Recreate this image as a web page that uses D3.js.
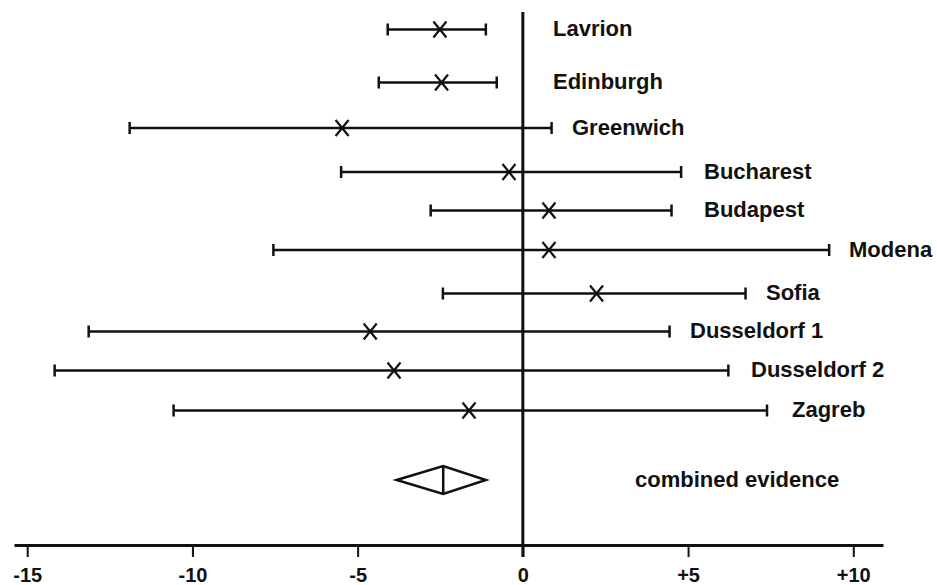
<!DOCTYPE html>
<html>
<head>
<meta charset="utf-8">
<script src="https://cdn.jsdelivr.net/npm/d3@7"></script>
<style>
  html, body { margin: 0; padding: 0; background: #fff; }
  svg { display: block; }
  text { font-family: "Liberation Sans", Arial, Helvetica, sans-serif; font-weight: bold; fill: #111; }
</style>
</head>
<body>
<svg id="chart" width="937" height="585"></svg>
<script>
// ---- data ----
const studies = ["Lavrion", "Edinburgh", "Greenwich", "Bucharest", "Budapest", "Modena", "Sofia", "Dusseldorf 1", "Dusseldorf 2", "Zagreb"];
const estimates = [-2.51, -2.46, -5.47, -0.42, 0.79, 0.79, 2.23, -4.62, -3.90, -1.63];
const lower = [-4.09, -4.36, -11.90, -5.50, -2.79, -7.55, -2.42, -13.14, -14.17, -10.57];
const upper = [-1.12, -0.79, 0.87, 4.79, 4.50, 9.27, 6.74, 4.44, 6.22, 7.39];
const combinedLabel = "combined evidence";
const combined = { estimate: -2.41, lower: -3.82, upper: -1.12 };
const tickValues = [-15, -10, -5, 0, 5, 10];
const tickLabels = ["-15", "-10", "-5", "0", "+5", "+10"];

// ---- layout ----
const svg = d3.select("#chart");
const x = d3.scaleLinear().domain([-15.4, 10.9]).range([14, 883]);
// row centres (uneven spacing in the original figure)
const y = d3.scaleLinear()
  .domain(d3.range(11))
  .range([29.5, 82.5, 128, 172, 210.5, 250, 293.5, 331.5, 370.5, 410.5, 480]);
const labelX = [553, 553, 572, 704, 704, 849, 766, 690, 751, 792];
const combinedLabelX = 635;
const axisY = 545;
const ink = "#111";

// zero line
svg.append("line")
  .attr("x1", x(0)).attr("x2", x(0))
  .attr("y1", 12).attr("y2", axisY + 12)
  .attr("stroke", ink).attr("stroke-width", 3);

// axis
const axis = d3.axisBottom(x)
  .tickValues(tickValues)
  .tickSize(12)
  .tickSizeOuter(0)
  .tickPadding(11)
  .tickFormat((d, i) => tickLabels[i]);
const gAxis = svg.append("g").attr("transform", `translate(0,${axisY})`).call(axis);
gAxis.select(".domain").attr("stroke", ink).attr("stroke-width", 3);
gAxis.selectAll(".tick line").attr("stroke", ink).attr("stroke-width", 2);
gAxis.selectAll(".tick text")
  .attr("font-size", 20).attr("font-weight", "bold")
  .attr("font-family", '"Liberation Sans", Arial, sans-serif')
  .attr("fill", ink);

// error bars
const rows = studies.map((s, i) => ({ name: s, est: estimates[i], lo: lower[i], hi: upper[i], i }));
const g = svg.append("g");
const cap = 6;
rows.forEach(d => {
  const yy = y(d.i);
  g.append("line").attr("x1", x(d.lo)).attr("x2", x(d.hi)).attr("y1", yy).attr("y2", yy)
    .attr("stroke", ink).attr("stroke-width", 2.5);
  [d.lo, d.hi].forEach(v => {
    g.append("line").attr("x1", x(v)).attr("x2", x(v)).attr("y1", yy - cap).attr("y2", yy + cap)
      .attr("stroke", ink).attr("stroke-width", 2.5);
  });
  const cx = x(d.est), hw = 6.5, hh = 8;
  g.append("path")
    .attr("d", `M${cx - hw},${yy - hh}L${cx + hw},${yy + hh}M${cx + hw},${yy - hh}L${cx - hw},${yy + hh}`)
    .attr("stroke", ink).attr("stroke-width", 2.2).attr("fill", "none");
  g.append("text").attr("x", labelX[d.i]).attr("y", yy + 1)
    .attr("dominant-baseline", "middle")
    .attr("font-size", 22).text(d.name);
});

// combined diamond
const cy = y(10), dh = 14;
svg.append("path")
  .attr("d", `M${x(combined.lower)},${cy}L${x(combined.estimate)},${cy - dh}L${x(combined.upper)},${cy}L${x(combined.estimate)},${cy + dh}Z`)
  .attr("fill", "none").attr("stroke", ink).attr("stroke-width", 2.5).attr("stroke-linejoin", "miter");
svg.append("line")
  .attr("x1", x(combined.estimate)).attr("x2", x(combined.estimate))
  .attr("y1", cy - dh).attr("y2", cy + dh)
  .attr("stroke", ink).attr("stroke-width", 2.5);
svg.append("text").attr("x", combinedLabelX).attr("y", cy + 1)
  .attr("dominant-baseline", "middle")
  .attr("font-size", 22).text(combinedLabel);
</script>
</body>
</html>
